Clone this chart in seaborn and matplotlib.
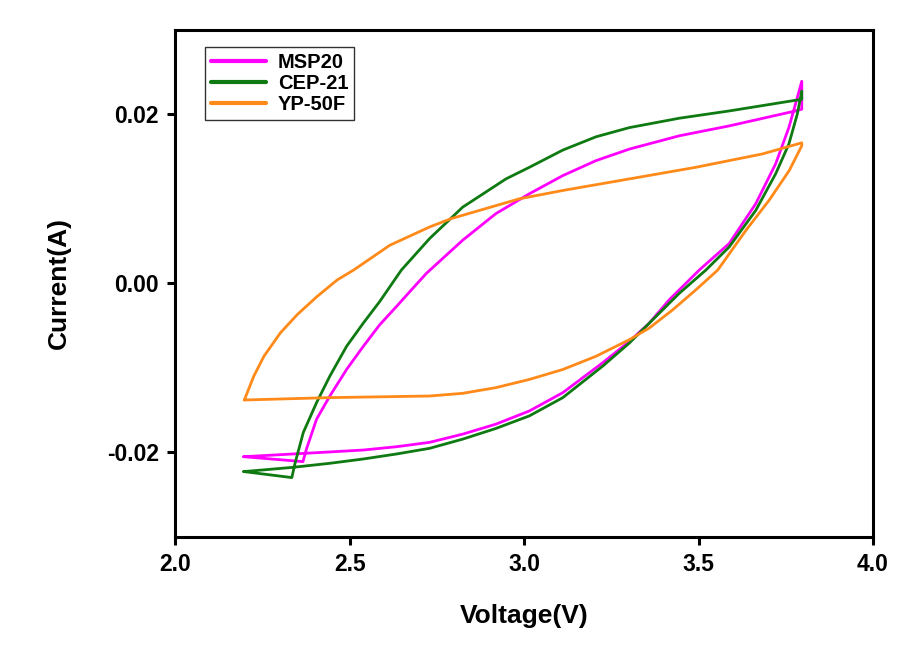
import matplotlib
matplotlib.use("Agg")
import matplotlib.pyplot as plt
import numpy as np
import pandas as pd
import seaborn as sns

# values (closed CV loops, in drawing order)
msp20_v = [2.196, 2.366, 2.376, 2.405, 2.443, 2.491, 2.539, 2.586, 2.634, 2.681, 2.720,
           2.824, 2.919, 3.015, 3.111, 3.206, 3.302, 3.445, 3.588, 3.778, 3.796,
           3.796, 3.783, 3.759, 3.721, 3.664, 3.588, 3.502, 3.416, 3.359, 3.302,
           3.225, 3.111, 3.015, 2.919, 2.824, 2.729, 2.634, 2.539, 2.424, 2.301, 2.196]
msp20_i = [-0.02052, -0.0211, -0.01961, -0.01608, -0.01334, -0.0102, -0.00746, -0.00491,
           -0.00275, -0.00059, 0.00118, 0.0051, 0.00824, 0.01059, 0.01274, 0.01451,
           0.01588, 0.01745, 0.01862, 0.02039, 0.02059,
           0.0239, 0.02195, 0.01842, 0.01412, 0.00941, 0.00471, 0.00156, -0.00196,
           -0.00471, -0.00687, -0.00941, -0.01294, -0.01511, -0.01667, -0.01785,
           -0.01882, -0.01934, -0.01973, -0.02, -0.02028, -0.02052]

cep21_v = [2.196, 2.334, 2.344, 2.367, 2.405, 2.443, 2.491, 2.539, 2.586, 2.648, 2.729,
           2.824, 2.948, 3.015, 3.111, 3.206, 3.302, 3.445, 3.588, 3.796,
           3.796, 3.783, 3.759, 3.721, 3.664, 3.588, 3.521, 3.445, 3.378, 3.302,
           3.225, 3.111, 3.015, 2.919, 2.824, 2.729, 2.634, 2.539, 2.443, 2.339, 2.253, 2.196]
cep21_i = [-0.02228, -0.02299, -0.02118, -0.01765, -0.01412, -0.01099, -0.00746, -0.00471,
           -0.00216, 0.00156, 0.00529, 0.00901, 0.01235, 0.01372, 0.01576, 0.01733,
           0.01842, 0.01953, 0.02039, 0.02177,
           0.02274, 0.02, 0.01647, 0.01294, 0.00862, 0.0043, 0.00156, -0.00118,
           -0.00393, -0.00706, -0.00981, -0.01353, -0.01569, -0.01718, -0.01844,
           -0.01953, -0.0202, -0.02079, -0.0213, -0.02177, -0.02208, -0.02228]

yp50f_v = [2.198, 2.225, 2.254, 2.301, 2.349, 2.406, 2.464, 2.511, 2.615, 2.729, 2.791,
           2.987, 3.111, 3.302, 3.492, 3.683, 3.796,
           3.796, 3.760, 3.702, 3.636, 3.555, 3.492, 3.426, 3.359, 3.302, 3.206,
           3.111, 3.015, 2.919, 2.824, 2.729, 2.443, 2.198]
yp50f_i = [-0.01381, -0.01099, -0.00864, -0.00588, -0.00373, -0.00158, 0.00039, 0.00156,
           0.0045, 0.00666, 0.00765, 0.0100, 0.01098, 0.01235, 0.01372, 0.0153, 0.01662,
           0.01627, 0.01333, 0.0098, 0.00627, 0.00156, -0.00079, -0.00314, -0.00529,
           -0.00667, -0.00864, -0.0102, -0.01138, -0.01235, -0.01302, -0.01334,
           -0.01353, -0.01381]

labels = ["MSP20", "CEP-21", "YP-50F"]
colors = ["#FF00FF", "#0F7A12", "#FF8A1A"]

frames = []
for name, v, i in zip(labels, [msp20_v, cep21_v, yp50f_v], [msp20_i, cep21_i, yp50f_i]):
    frames.append(pd.DataFrame({"Voltage": v, "Current": i, "sample": name, "order": np.arange(len(v))}))
df = pd.concat(frames, ignore_index=True)

sns.set_theme(style="ticks")
plt.rcParams["font.family"] = ["Liberation Sans", "DejaVu Sans"]
plt.rcParams["font.weight"] = "bold"
plt.rcParams["text.color"] = "black"
plt.rcParams["axes.labelcolor"] = "black"
plt.rcParams["xtick.color"] = "black"
plt.rcParams["ytick.color"] = "black"

fig = plt.figure(figsize=(8.99, 6.46), dpi=100)
ax = fig.add_axes([0.195, 0.169, 0.776, 0.785])

sns.lineplot(
    data=df,
    x="Voltage",
    y="Current",
    hue="sample",
    hue_order=labels,
    palette=colors,
    units="sample",
    estimator=None,
    sort=False,
    linewidth=2.0,
    solid_joinstyle="round",
    ax=ax,
)

ax.set_xlim(2.0, 4.0)
ax.set_ylim(-0.03, 0.03)
ax.set_xticks([2.0, 2.5, 3.0, 3.5, 4.0])
ax.set_yticks([-0.02, 0.00, 0.02])
ax.set_xticklabels(["2.0", "2.5", "3.0", "3.5", "4.0"], fontsize=16.5, fontweight="bold")
ax.set_yticklabels(["-0.02", "0.00", "0.02"], fontsize=16.5, fontweight="bold")
ax.tick_params(direction="out", length=6, width=2.2, pad=6, colors="black")

for spine in ax.spines.values():
    spine.set_visible(True)
    spine.set_linewidth(2.2)
    spine.set_color("black")

ax.set_xlabel("Voltage(V)", fontsize=19, fontweight="bold", labelpad=20, color="black")
ax.set_ylabel("Current(A)", fontsize=19, fontweight="bold", labelpad=26, color="black")

handles, _ = ax.get_legend_handles_labels()
leg = ax.legend(
    handles=handles,
    labels=labels,
    loc="upper left",
    bbox_to_anchor=(0.043, 0.966),
    borderaxespad=0,
    frameon=True,
    fancybox=False,
    edgecolor="black",
    handlelength=2.7,
    handletextpad=0.6,
    labelspacing=0.1,
    borderpad=0.3,
    prop={"size": 14.5, "weight": "bold"},
)
leg.get_frame().set_linewidth(1.0)
for text in leg.get_texts():
    text.set_color("black")
for line in leg.get_lines():
    line.set_linewidth(3.0)

fig.savefig("out.png", dpi=100)
